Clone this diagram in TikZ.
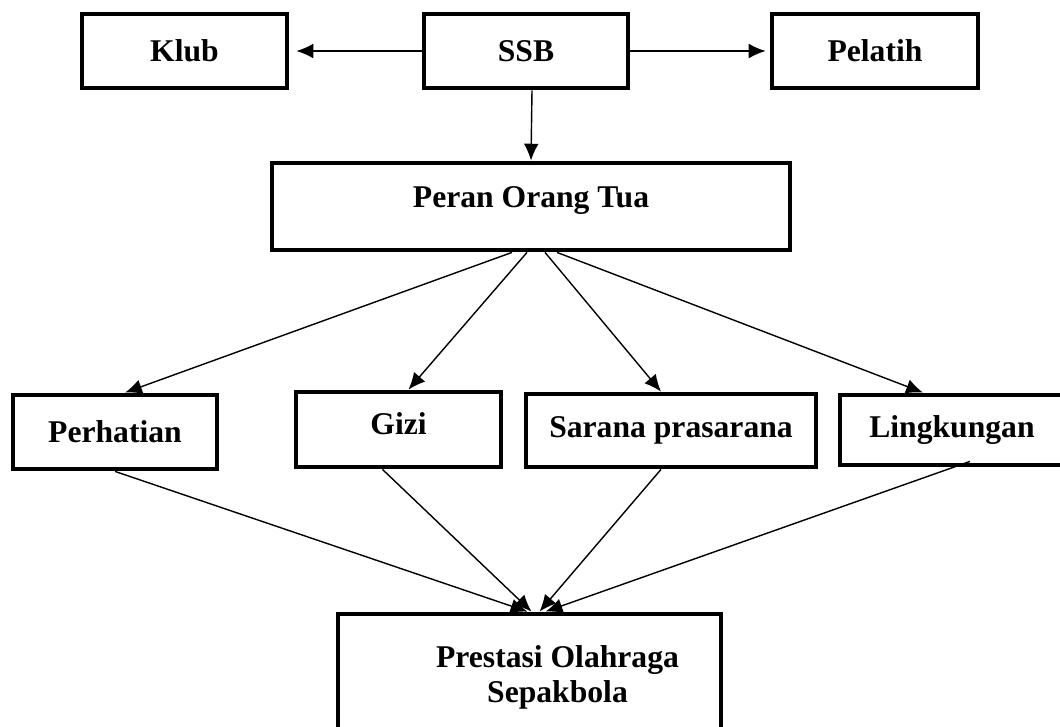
\documentclass[tikz,border=0pt]{standalone}
\usepackage{fontspec}
\setmainfont{Liberation Serif}
\usetikzlibrary{arrows.meta,positioning,calc}
\tikzset{
  box/.style={draw,rectangle,line width=3.4pt,inner sep=2pt,align=center,font=\bfseries\fontsize{22.5}{25}\selectfont},
  link/.style={->,line width=1pt}
}

\begin{document}
\begin{tikzpicture}[x=0.025cm,y=-0.025cm,>={Latex[length=12pt,width=10.5pt]}]
            \useasboundingbox (0,0) rectangle (1060,726);
            \node [box,minimum width=5.125cm,minimum height=1.85cm] (klub) at (184.5,51) {Klub};
            \node [box,minimum width=5.1cm,minimum height=1.85cm] (ssb) at (526,51) {SSB};
            \node [box,minimum width=5.15cm,minimum height=1.85cm] (pelatih) at (875,51) {Pelatih};
            \node [box,minimum width=12.95cm,minimum height=2.175cm,text depth=13pt] (peran) at (531,206.5) {Peran Orang Tua};
            \node [box,minimum width=5.1cm,minimum height=1.85cm] (perhatian) at (115,432) {Perhatian};
            \node [box,minimum width=5.125cm,minimum height=1.875cm,text depth=8pt] (gizi) at (398.5,429.5) {Gizi};
            \node [box,minimum width=7.25cm,minimum height=1.825cm] (sarana) at (671,430.5) {Sarana prasarana};
            \node [box,minimum width=5.6cm,minimum height=1.75cm] (lingkungan) at (952,430) {Lingkungan};
            \node [box,minimum width=9.575cm,minimum height=3.15cm] (prestasi) at (529.5,677) {\hspace*{1.4cm}Prestasi Olahraga\\\hspace*{1.4cm}Sepakbola};
            \draw [link] (ssb.west) -- ([xshift=0.175cm]klub.east);
            \draw [link] (ssb.east) -- ([xshift=-0.1cm]pelatih.west);
            \draw [link] ([xshift=0.15cm]ssb.south) -- (peran.north);
            \draw [link] ([xshift=-0.475cm]peran.south) -- ([xshift=0.25cm]perhatian.north);
            \draw [link] ([xshift=-0.1cm]peran.south) -- ([xshift=0.25cm]gizi.north);
            \draw [link] ([xshift=0.35cm]peran.south) -- ([xshift=-0.25cm]sarana.north);
            \draw [link] ([xshift=0.65cm]peran.south) -- ([xshift=-0.725cm]lingkungan.north);
            \draw [link] (perhatian.south) -- ([xshift=-0.05cm]prestasi.north);
            \draw [link] ([xshift=-0.4cm]gizi.south) -- ([xshift=0.05cm]prestasi.north);
            \draw [link] ([xshift=-0.25cm]sarana.south) -- ([xshift=0.25cm]prestasi.north);
            \draw [link] ([xshift=0.45cm,yshift=0.15cm]lingkungan.south) -- ([xshift=0.4cm]prestasi.north);
\end{tikzpicture}
\end{document}
